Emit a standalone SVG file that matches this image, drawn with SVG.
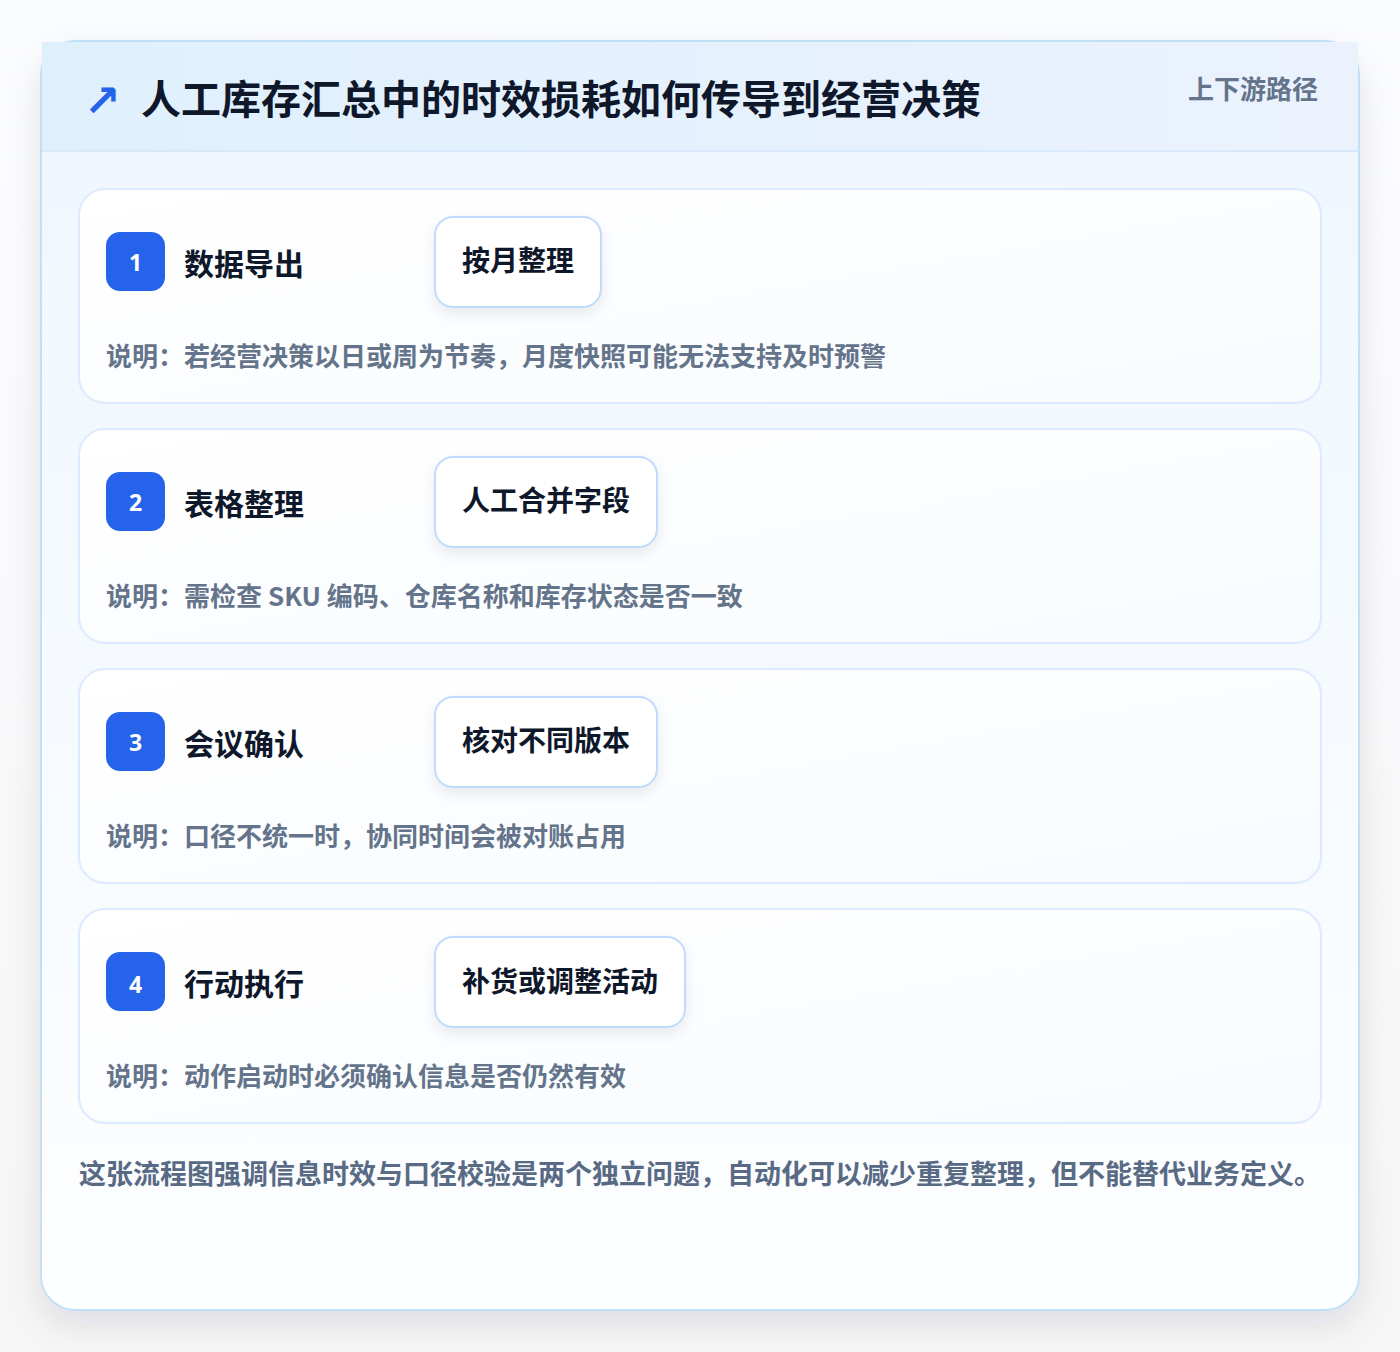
<svg xmlns="http://www.w3.org/2000/svg" width="1400" height="1352" viewBox="0 0 1400 1352">
<defs>
<linearGradient id="bg" x1="0" y1="0" x2="0" y2="1"><stop offset="0" stop-color="#fbfcfe"/><stop offset="1" stop-color="#f6f6f7"/></linearGradient>
<linearGradient id="cardbg" x1="0" y1="0" x2="0" y2="1"><stop offset="0" stop-color="#eef6fe"/><stop offset="1" stop-color="#fdfeff"/></linearGradient>
<linearGradient id="hdr" x1="0" y1="0" x2="1" y2="0"><stop offset="0" stop-color="#dff0fd"/><stop offset="1" stop-color="#ebf2fe"/></linearGradient>
<linearGradient id="step" x1="0" y1="0" x2="1" y2="1"><stop offset="0" stop-color="#ffffff"/><stop offset="1" stop-color="#f8fbfe"/></linearGradient>
<filter id="outerShadow" x="-10%" y="-10%" width="120%" height="120%"><feDropShadow dx="0" dy="14" stdDeviation="16" flood-color="#0f172a" flood-opacity="0.10"/></filter>
<filter id="pillShadow" x="-20%" y="-30%" width="140%" height="170%"><feDropShadow dx="0" dy="6" stdDeviation="7" flood-color="#0f172a" flood-opacity="0.08"/></filter>
<style>
.ttl{font-family:"Noto Sans CJK SC","Noto Sans",sans-serif;font-weight:700;fill:#0f172a}
.step{fill:url(#step);stroke:#dbeafe;stroke-width:2}
.badge{fill:#2563eb}
.num{font-family:"Noto Sans","Noto Sans CJK SC",sans-serif;font-weight:700;font-size:23px;fill:#ffffff}
.stitle{font-family:"Noto Sans CJK SC",sans-serif;font-weight:700;font-size:30px;fill:#0f172a}
.pill{fill:#ffffff;stroke:#bfdbfe;stroke-width:2}
.ptext{font-family:"Noto Sans CJK SC",sans-serif;font-weight:700;font-size:28px;fill:#0f172a}
.note{font-family:"Noto Sans CJK SC",sans-serif;font-weight:700;font-size:26px;fill:#64748b}
</style>
</defs>
<rect width="1400" height="1352" fill="url(#bg)"/>
<g id="frame">
<rect x="41" y="41" width="1318" height="1269" rx="34" fill="url(#cardbg)" stroke="#bfe0f5" stroke-width="2" filter="url(#outerShadow)"/>
<rect x="42" y="42" width="1316" height="109" fill="url(#hdr)"/>
<line x1="42" y1="151" x2="1358" y2="151" stroke="#d7e9fb" stroke-width="2"/>
<text x="84" y="116" font-family="DejaVu Sans,sans-serif" font-weight="700" font-size="44" fill="#2563eb">↗</text>
<text class="ttl" x="141" y="114" font-size="40">人工库存汇总中的时效损耗如何传导到经营决策</text>
<text x="1318" y="99" text-anchor="end" font-family="Noto Sans CJK SC,sans-serif" font-weight="700" font-size="26" fill="#64748b">上下游路径</text>
</g>
<g id="step1">
<rect class="step" x="79" y="189" width="1242" height="214" rx="26"/>
<rect class="badge" x="106" y="232" width="59" height="59" rx="14"/>
<text class="num" x="135.5" y="271" text-anchor="middle">1</text>
<text class="stitle" x="184" y="275">数据导出</text>
<rect class="pill" x="435" y="217" width="166" height="90" rx="18" filter="url(#pillShadow)"/>
<text class="ptext" x="518" y="271" text-anchor="middle">按月整理</text>
<text class="note" x="106" y="366">说明：若经营决策以日或周为节奏，月度快照可能无法支持及时预警</text>
</g>
<g id="step2">
<rect class="step" x="79" y="429" width="1242" height="214" rx="26"/>
<rect class="badge" x="106" y="472" width="59" height="59" rx="14"/>
<text class="num" x="135.5" y="511" text-anchor="middle">2</text>
<text class="stitle" x="184" y="515">表格整理</text>
<rect class="pill" x="435" y="457" width="222" height="90" rx="18" filter="url(#pillShadow)"/>
<text class="ptext" x="546" y="511" text-anchor="middle">人工合并字段</text>
<text class="note" x="106" y="606">说明：需检查 SKU 编码、仓库名称和库存状态是否一致</text>
</g>
<g id="step3">
<rect class="step" x="79" y="669" width="1242" height="214" rx="26"/>
<rect class="badge" x="106" y="712" width="59" height="59" rx="14"/>
<text class="num" x="135.5" y="751" text-anchor="middle">3</text>
<text class="stitle" x="184" y="755">会议确认</text>
<rect class="pill" x="435" y="697" width="222" height="90" rx="18" filter="url(#pillShadow)"/>
<text class="ptext" x="546" y="751" text-anchor="middle">核对不同版本</text>
<text class="note" x="106" y="846">说明：口径不统一时，协同时间会被对账占用</text>
</g>
<g id="step4">
<rect class="step" x="79" y="909" width="1242" height="214" rx="26"/>
<rect class="badge" x="106" y="952" width="59" height="59" rx="14"/>
<text class="num" x="135.5" y="993" text-anchor="middle">4</text>
<text class="stitle" x="184" y="995">行动执行</text>
<rect class="pill" x="435" y="937" width="250" height="90" rx="18" filter="url(#pillShadow)"/>
<text class="ptext" x="560" y="992" text-anchor="middle">补货或调整活动</text>
<text class="note" x="106" y="1086">说明：动作启动时必须确认信息是否仍然有效</text>
</g>
<g id="connectors"></g>
<g id="footer">
<text x="79" y="1184" font-family="Noto Sans CJK SC,sans-serif" font-weight="700" font-size="27" fill="#586a84">这张流程图强调信息时效与口径校验是两个独立问题，自动化可以减少重复整理，但不能替代业务定义。</text>
</g>
</svg>
